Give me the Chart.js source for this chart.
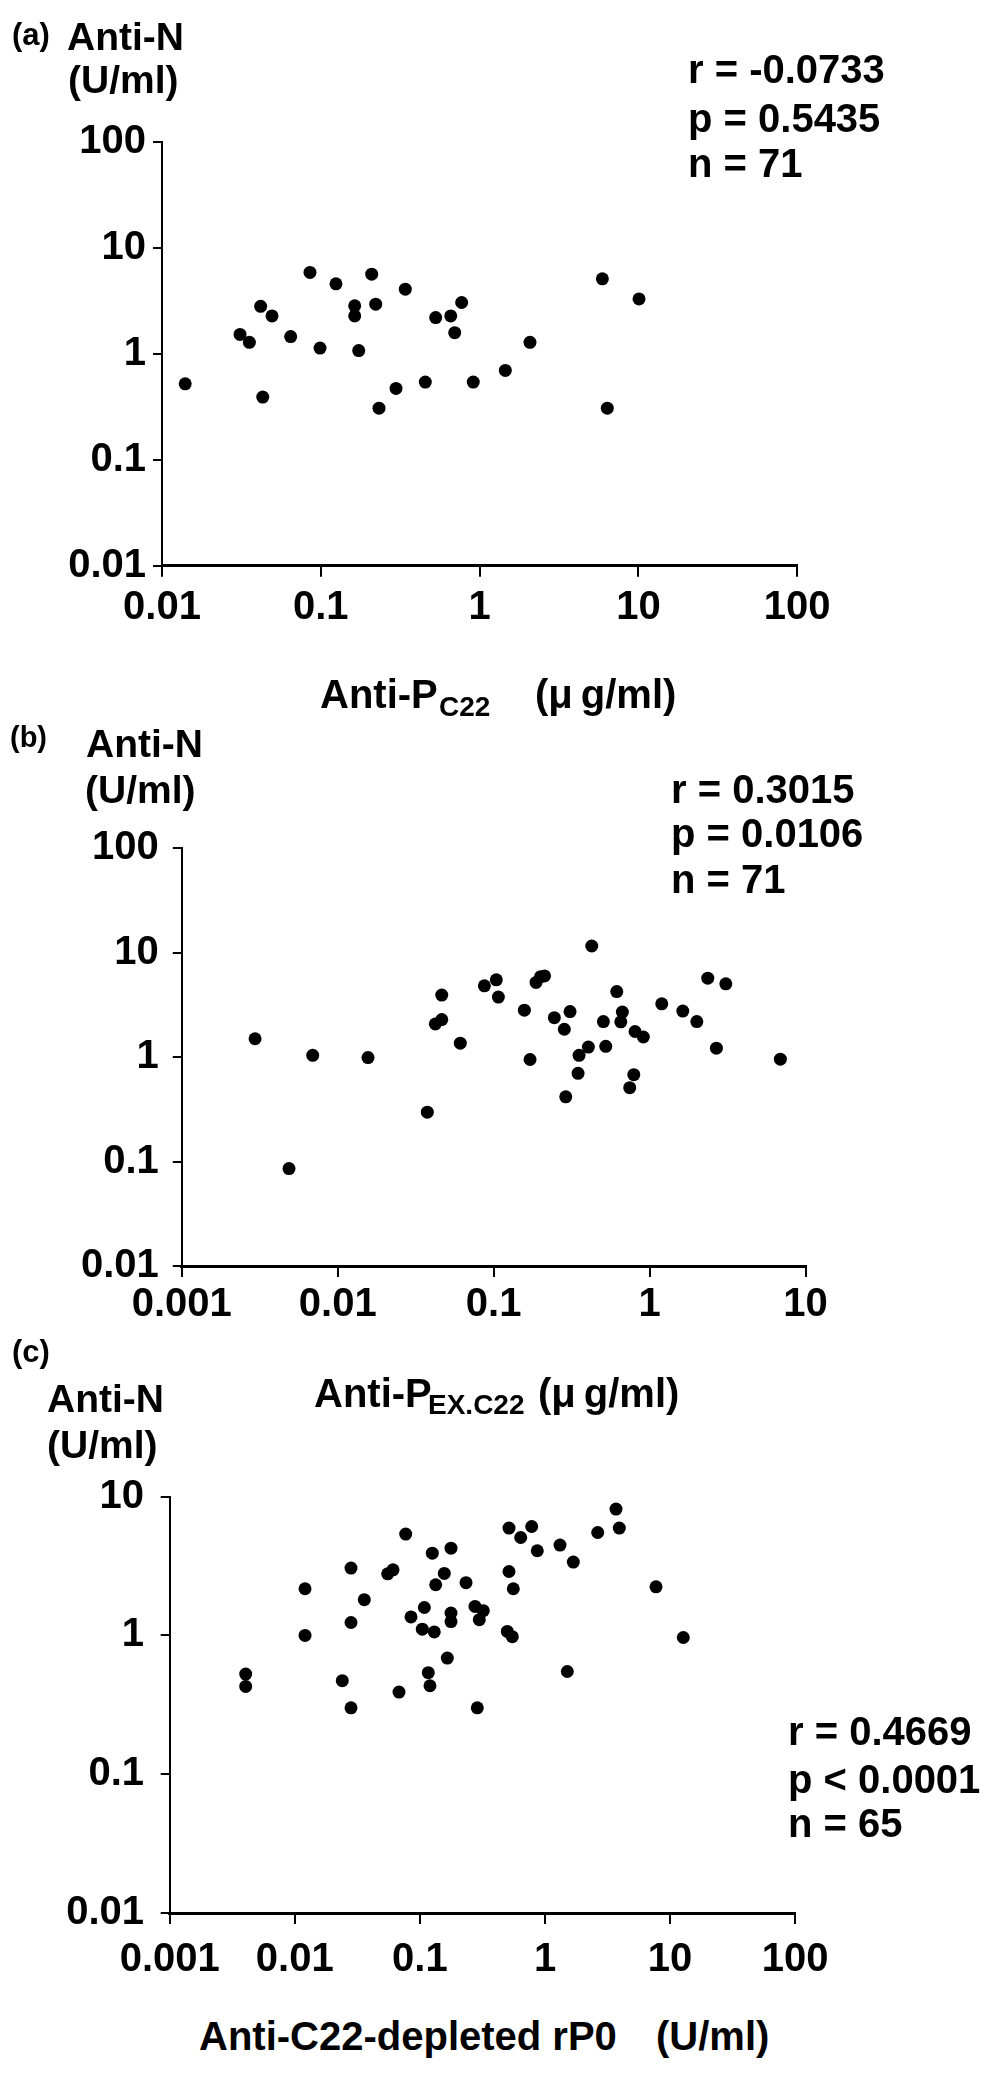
<!DOCTYPE html>
<html><head><meta charset="utf-8">
<script src="https://cdn.jsdelivr.net/npm/chart.js@4.4.1/dist/chart.umd.min.js"></script>
<style>
html,body{margin:0;padding:0;background:#fff;}
body{width:1004px;height:2078px;position:relative;overflow:hidden;font-family:"Liberation Sans",Arial,sans-serif;}
canvas{position:absolute;left:0;}
.t{position:absolute;white-space:pre;color:#000;font-weight:bold;}
</style></head><body>
<canvas id="cA" width="1004" height="660" style="top:0px;width:1004px;height:660px"></canvas>
<canvas id="cB" width="1004" height="640" style="top:700px;width:1004px;height:640px"></canvas>
<canvas id="cC" width="1004" height="640" style="top:1360px;width:1004px;height:640px"></canvas>
<script>
// ---------- Data ----------
// Panel (a): Anti-P C22 (µg/ml) vs Anti-N (U/ml)
const panelA_x = [0.0140,0.0310,0.0355,0.0418,0.0493,0.0431,0.0646,0.0855,0.0989,0.1246,0.1635,0.1635,0.1733,0.2092,0.2217,0.2326,0.2976,0.3405,0.455,0.529,0.658,0.697,0.771,0.912,1.452,2.076,5.93,6.37,10.09];
const panelA_y = [0.52,1.52,1.28,2.8,2.27,0.39,1.45,5.84,1.13,4.56,2.83,2.27,1.07,5.63,2.93,0.306,0.47,4.06,0.54,2.19,2.27,1.58,3.04,0.54,0.695,1.28,5.09,0.306,3.29];

// Panel (b): Anti-P EX.C22 (µg/ml) vs Anti-N (U/ml)
const panelB_x = [0.00295,0.00487,0.00691,0.01564,0.03755,0.04227,0.04647,0.04647,0.0611,0.0872,0.1040,0.1072,0.1574,0.1712,0.187,0.200,0.212,0.4258,0.616,0.245,0.309,0.284,0.5055,0.669,0.654,0.807,0.912,0.405,0.353,0.5236,0.3478,0.290,0.792,0.746,1.197,1.633,2.009,2.362,3.083,2.683,6.90];
const panelB_y = [1.50,0.0857,1.04,0.99,0.297,2.08,2.29,3.93,1.36,4.82,5.5,3.76,2.82,0.95,5.2,5.9,6.0,11.6,4.25,2.39,2.73,1.85,2.19,2.70,2.18,1.76,1.56,1.25,1.04,1.27,0.70,0.417,0.68,0.51,3.24,2.76,2.19,5.71,5.04,1.22,0.956];

// Panel (c): Anti-C22-depleted rP0 (U/ml) vs Anti-N (U/ml)
const panelC_x = [0.00405,0.00405,0.01207,0.01207,0.02814,0.02814,0.03594,0.02397,0.02814,0.05528,0.06095,0.06808,0.0770,0.0849,0.1085,0.1045,0.1167,0.1204,0.1303,0.1256,0.1337,0.1567,0.1773,0.1773,0.1773,0.1656,0.2337,0.2757,0.3212,0.2984,0.2876,0.5154,0.5154,0.558,0.4996,0.5477,0.6394,0.7829,0.8676,1.318,1.684,1.508,2.638,3.695,3.926,7.717,12.75];
const panelC_y = [0.527,0.429,2.17,1.0,3.06,1.24,1.81,0.472,0.301,2.78,2.97,0.391,5.38,1.36,1.59,1.11,0.539,0.434,1.06,3.92,2.32,2.80,4.26,1.45,1.26,0.687,2.40,1.62,1.51,1.30,0.301,5.94,2.89,2.17,1.07,0.98,5.08,6.10,4.08,4.48,3.38,0.55,5.52,8.14,5.94,2.24,0.967];

// Tick values and labels
const ticksA_x = [0.01,0.1,1,10,100];
const labelsA_x = ['0.01','0.1','1','10','100'];
const ticksA_y = [0.01,0.1,1,10,100];
const labelsA_y = ['0.01','0.1','1','10','100'];
const ticksB_x = [0.001,0.01,0.1,1,10];
const labelsB_x = ['0.001','0.01','0.1','1','10'];
const ticksB_y = [0.01,0.1,1,10,100];
const labelsB_y = ['0.01','0.1','1','10','100'];
const ticksC_x = [0.001,0.01,0.1,1,10,100];
const labelsC_x = ['0.001','0.01','0.1','1','10','100'];
const ticksC_y = [0.01,0.1,1,10];
const labelsC_y = ['0.01','0.1','1','10'];

// ---------- Helpers ----------
const FAM = '"Liberation Sans", Arial, sans-serif';
function txt(str, left, baseline, size, weight) {
  const d = document.createElement('div');
  d.className = 't';
  d.textContent = str;
  d.style.left = left + 'px';
  d.style.fontSize = size + 'px';
  d.style.lineHeight = size + 'px';
  d.style.top = (baseline - 0.8465 * size) + 'px';
  if (weight) d.style.fontWeight = weight;
  document.body.appendChild(d);
}

function makeChart(id, xs, ys, xT, xL, yT, yL, g) {
  const pts = xs.map((x, i) => ({x: x, y: ys[i]}));
  const tickFont = {family: FAM, size: 40, weight: 'bold', lineHeight: 1.2};
  return new Chart(document.getElementById(id), {
    type: 'scatter',
    data: {datasets: [{data: pts, pointRadius: 6.5, pointHoverRadius: 6.5, pointStyle: 'circle',
      backgroundColor: '#000', borderColor: '#000', borderWidth: 0}]},
    options: {
      responsive: false, animation: false, devicePixelRatio: 1, events: [],
      layout: {padding: {left: 0, top: g.top, right: g.right, bottom: 0}},
      plugins: {legend: {display: false}, tooltip: {enabled: false}},
      scales: {
        x: {
          type: 'logarithmic', position: 'bottom', min: xT[0], max: xT[xT.length - 1],
          afterBuildTicks: s => { s.ticks = xT.map(v => ({value: v})); },
          afterFit: s => { s.height = g.xH; },
          ticks: {autoSkip: false, maxRotation: 0, minRotation: 0, padding: g.xPad, color: '#000', font: tickFont,
            callback: (v, i) => xL[i]},
          grid: {drawOnChartArea: false, drawTicks: true, tickLength: 11, tickWidth: 2, tickColor: '#000', color: '#000', lineWidth: 2},
          border: {display: true, color: '#000', width: 3}
        },
        y: {
          type: 'logarithmic', position: 'left', min: yT[0], max: yT[yT.length - 1],
          afterBuildTicks: s => { s.ticks = yT.map(v => ({value: v})); },
          afterFit: s => { s.width = g.left; },
          ticks: {autoSkip: false, padding: g.yPad, color: '#000', font: tickFont,
            callback: (v, i) => yL[i]},
          grid: {drawOnChartArea: false, drawTicks: true, tickLength: 9, tickWidth: 2, tickColor: '#000', color: '#000', lineWidth: 2},
          border: {display: true, color: '#000', width: 2}
        }
      }
    }
  });
}

makeChart('cA', panelA_x, panelA_y, ticksA_x, labelsA_x, ticksA_y, labelsA_y,
  {top: 141.7, right: 206.8, xH: 94.3, left: 162, xPad: 7.3, yPad: 7});
makeChart('cB', panelB_x, panelB_y, ticksB_x, labelsB_x, ticksB_y, labelsB_y,
  {top: 148.3, right: 198.5, xH: 74, left: 181.8, xPad: 3.7, yPad: 14});
makeChart('cC', panelC_x, panelC_y, ticksC_x, labelsC_x, ticksC_y, labelsC_y,
  {top: 136.7, right: 208.8, xH: 87, left: 169.7, xPad: 11.7, yPad: 16.7});

// ---------- Text annotations ----------
// Panel (a)
txt('(a)', 12, 45, 31);
txt('Anti-N', 67, 50, 39);
txt('(U/ml)', 68, 93, 39);
txt('r = -0.0733', 688, 83, 40);
txt('p = 0.5435', 688, 132, 40);
txt('n = 71', 688, 177, 40);
txt('Anti-P', 320, 708, 40);
txt('C22', 439, 717, 28);
txt('(\u03bc\u2009g/ml)', 535, 708, 40);

// Panel (b)
txt('(b)', 10, 748, 29);
txt('Anti-N', 86, 757, 39);
txt('(U/ml)', 85, 803, 39);
txt('r = 0.3015', 671, 803, 40);
txt('p = 0.0106', 671, 847, 40);
txt('n = 71', 671, 893, 40);
txt('Anti-P', 314, 1407, 40);
txt('EX.C22', 428, 1415, 28);
txt('(\u03bc\u2009g/ml)', 538, 1407, 40);

// Panel (c)
txt('(c)', 12, 1362, 31);
txt('Anti-N', 47, 1412, 39);
txt('(U/ml)', 47, 1458, 39);
txt('r = 0.4669', 788, 1745, 40);
txt('p < 0.0001', 788, 1793, 40);
txt('n = 65', 788, 1837, 40);
txt('Anti-C22-depleted rP0', 199, 2050, 40);
txt('(U/ml)', 656, 2050, 40);
</script>
</body></html>
